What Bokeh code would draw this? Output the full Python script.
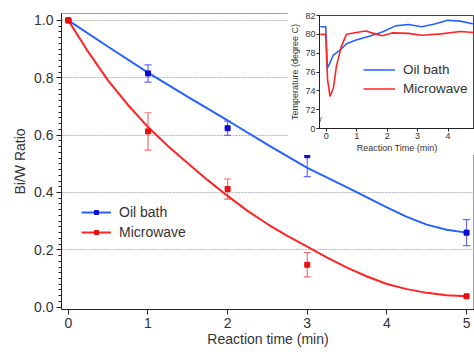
from bokeh.plotting import figure
from bokeh.models import (ColumnDataSource, Range1d, FixedTicker, NumeralTickFormatter,
                          Whisker, TeeHead, Legend, LegendItem, Label)
from bokeh.embed import file_html
from bokeh.resources import INLINE

# ---------------- data ----------------
oil_time = [0, 1, 2, 3, 5]
oil_ratio = [1.0, 0.815, 0.624, 0.53, 0.26]
oil_err = [0.0, 0.03, 0.025, 0.075, 0.045]

mw_time = [0, 1, 2, 3, 5]
mw_ratio = [1.0, 0.613, 0.412, 0.148, 0.038]
mw_err = [0.0, 0.065, 0.035, 0.042, 0.0]

oil_fit_time = [0, 0.5, 1, 1.5, 2, 2.5, 3, 3.25, 3.5, 3.75, 4, 4.25, 4.5, 4.75, 5]
oil_fit = [1.0, 0.908, 0.818, 0.733, 0.651, 0.567, 0.486, 0.452, 0.418, 0.383, 0.348,
           0.315, 0.288, 0.27, 0.26]
mw_fit_time = [0, 0.25, 0.5, 0.75, 1, 1.25, 1.5, 1.75, 2, 2.25, 2.5, 2.75, 3, 3.25,
               3.5, 3.75, 4, 4.25, 4.5, 4.75, 5]
mw_fit = [1.0, 0.89, 0.79, 0.705, 0.628, 0.562, 0.502, 0.443, 0.388, 0.336, 0.29, 0.249,
          0.211, 0.173, 0.138, 0.107, 0.081, 0.063, 0.05, 0.042, 0.038]

oil_temp_time = [-0.2, -0.02, 0.03, 0.12, 0.23, 0.44, 0.66, 0.98, 1.41, 1.84, 2.27, 2.7,
                 3.13, 3.56, 3.99, 4.4, 4.85]
oil_temp = [80.8, 80.8, 76.4, 77.0, 77.8, 78.3, 79.0, 79.4, 79.8, 80.25, 80.9, 81.05,
            80.8, 81.1, 81.5, 81.4, 81.1]
mw_temp_time = [-0.2, -0.02, 0.04, 0.12, 0.23, 0.33, 0.49, 0.66, 0.98, 1.3, 1.6, 1.84,
                2.16, 2.7, 3.13, 3.77, 4.4, 4.85]
mw_temp = [80.0, 80.0, 75.2, 73.4, 74.3, 76.6, 78.7, 80.0, 80.2, 80.35, 80.05, 79.85,
           80.15, 80.1, 79.9, 80.05, 80.3, 80.2]

x_ticks = [0, 1, 2, 3, 4, 5]
y_ticks = [0.0, 0.2, 0.4, 0.6, 0.8, 1.0]
inset_x_ticks = [0, 1, 2, 3, 4]
inset_y_ticks = [70, 72, 74, 76, 78, 80, 82]
inset_y_labels = {70: "0"}

BLUE = "#2462ff"
RED = "#ff2424"
FONT = "Liberation Sans"
TXT = "#333333"

# ---------------- main figure ----------------
p = figure(width=474, height=350, output_backend="svg", toolbar_location=None,
           x_range=Range1d(-0.086, 5.1), y_range=Range1d(-0.008, 1.024),
           min_border_left=61, min_border_right=0, min_border_top=13, min_border_bottom=41)
p.outline_line_color = "#a0a0a0"
p.xgrid.visible = False
p.ygrid.grid_line_color = "#b4b4b4"
p.ygrid.grid_line_dash = "2 1"
p.ygrid.ticker = FixedTicker(ticks=y_ticks[1:])

p.xaxis.ticker = FixedTicker(ticks=x_ticks)
p.yaxis.ticker = FixedTicker(ticks=y_ticks, minor_ticks=[i / 50 for i in range(51)])
p.yaxis.formatter = NumeralTickFormatter(format="0.0")
for ax in (p.xaxis, p.yaxis):
    ax.axis_line_color = "#222222"
    ax.major_tick_line_color = "#222222"
    ax.minor_tick_line_color = "#222222"
    ax.major_tick_in = 0
    ax.minor_tick_in = 0
    ax.major_label_text_font = FONT
    ax.major_label_text_font_size = "14px"
    ax.major_label_text_color = TXT
    ax.axis_label_text_font = FONT
    ax.axis_label_text_font_size = "14px"
    ax.axis_label_text_font_style = "normal"
    ax.axis_label_text_color = TXT
p.xaxis.major_tick_out = 5
p.xaxis.major_label_standoff = 3
p.xaxis.axis_label_standoff = 0
p.yaxis.major_tick_out = 5
p.yaxis.minor_tick_out = 3
p.yaxis.major_label_standoff = 3
p.yaxis.axis_label_standoff = 3
p.xaxis.axis_label = "Reaction time (min)"
p.yaxis.axis_label = "Bi/W Ratio"

def err_source(t, v, e):
    tt = [a for a, c in zip(t, e) if c > 0]
    up = [b + c for b, c in zip(v, e) if c > 0]
    lo = [b - c for b, c in zip(v, e) if c > 0]
    return ColumnDataSource(dict(t=tt, up=up, lo=lo))

for t, v, e, col in ((oil_time, oil_ratio, oil_err, "#6a6af0"),
                     (mw_time, mw_ratio, mw_err, "#f07070")):
    src = err_source(t, v, e)
    w = Whisker(base="t", upper="up", lower="lo", source=src, line_color=col, line_width=1.2,
                upper_head=TeeHead(size=7, line_color=col, line_width=1.2),
                lower_head=TeeHead(size=7, line_color=col, line_width=1.2))
    p.add_layout(w)

oil_line = p.line(oil_fit_time, oil_fit, line_color=BLUE, line_width=2)
mw_line = p.line(mw_fit_time, mw_fit, line_color=RED, line_width=2)
oil_pts = p.scatter(oil_time, oil_ratio, marker="square", size=5, color="#0a0ad0")
mw_pts = p.scatter(mw_time, mw_ratio, marker="square", size=5, color="#e81010")

leg = Legend(items=[LegendItem(label="Oil bath", renderers=[oil_line, oil_pts]),
                    LegendItem(label="Microwave", renderers=[mw_line, mw_pts])],
             location=(20, 67), padding=0, margin=0, spacing=0,
             glyph_width=30, glyph_height=10, label_height=20, label_standoff=8,
             label_text_font=FONT, label_text_font_size="14px", label_text_color=TXT,
             border_line_color=None, background_fill_alpha=0)
p.add_layout(leg)

# ---------------- inset figure ----------------
q = figure(width=187, height=146, output_backend="svg", toolbar_location=None,
           x_range=Range1d(-0.226, 4.87), y_range=Range1d(70, 82),
           min_border_left=29, min_border_right=0, min_border_top=6, min_border_bottom=27)
q.background_fill_color = "white"
q.border_fill_color = "white"
q.outline_line_color = "#444444"
q.grid.visible = False
q.xaxis.ticker = FixedTicker(ticks=inset_x_ticks)
q.yaxis.ticker = FixedTicker(ticks=inset_y_ticks)
q.yaxis.major_label_overrides = inset_y_labels
for ax in (q.xaxis, q.yaxis):
    ax.axis_line_color = "#222222"
    ax.major_tick_line_color = "#222222"
    ax.minor_tick_line_color = None
    ax.major_tick_in = 0
    ax.major_tick_out = 3
    ax.major_label_standoff = 1
    ax.axis_label_standoff = 1
    ax.major_label_text_font = FONT
    ax.major_label_text_font_size = "9px"
    ax.major_label_text_color = TXT
    ax.axis_label_text_font = FONT
    ax.axis_label_text_font_size = "9px"
    ax.axis_label_text_font_style = "normal"
    ax.axis_label_text_color = TXT
q.yaxis.axis_label_standoff = 2
q.xaxis.axis_label = "Reaction Time (min)"
q.yaxis.axis_label = "Temperature (degree C)"

oil_t_line = q.line(oil_temp_time, oil_temp, line_color=BLUE, line_width=1.6)
mw_t_line = q.line(mw_temp_time, mw_temp, line_color=RED, line_width=1.6)
q.add_layout(Label(x=-0.226, y=71.0, text="//", text_font=FONT, text_font_size="8px",
                   text_color="#222222", text_align="center", text_baseline="middle"))

leg2 = Legend(items=[LegendItem(label="Oil bath", renderers=[oil_t_line]),
                     LegendItem(label="Microwave", renderers=[mw_t_line])],
              location=(44, 30), padding=0, margin=0, spacing=0,
              glyph_width=32, glyph_height=19, label_height=19, label_standoff=8,
              label_text_font=FONT, label_text_font_size="13.5px", label_text_color=TXT,
              border_line_color=None, background_fill_alpha=0)
q.add_layout(leg2)

# the inset is a separate root, floated over the main plot
q.styles = {"position": "absolute", "left": "287px", "top": "9px", "z-index": "5"}

open("out.html", "w").write(file_html([p, q], INLINE))
